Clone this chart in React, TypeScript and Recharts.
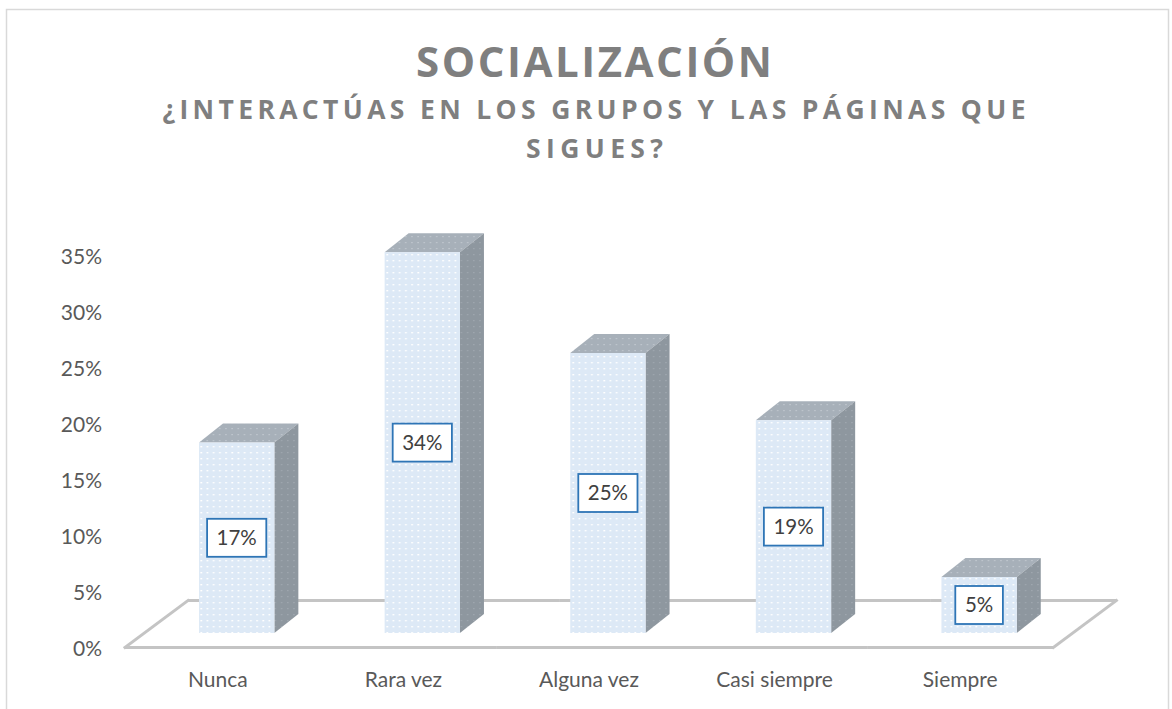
import React from 'react';
import { BarChart, Bar, XAxis, YAxis } from 'recharts';

const categories = ['Nunca', 'Rara vez', 'Alguna vez', 'Casi siempre', 'Siempre'];
const values = [0.17, 0.34, 0.25, 0.19, 0.05];
const yTicks = [0, 0.05, 0.1, 0.15, 0.2, 0.25, 0.3, 0.35];
const titleText = 'SOCIALIZACIÓN';
const subtitleLines = ['¿INTERACTÚAS EN LOS GRUPOS Y LAS PÁGINAS QUE', 'SIGUES?'];

const data = categories.map((c, i) => ({ name: c, value: values[i] }));

const W = 1172;
const H = 709;
const DX = 24;
const DY = 19;
const LIFT = 16;
const FLOOR_DX = 63;
const FLOOR_DY = 47;
const FLOOR_COLOR = '#c4c4c4';
const FONT = 'Lato, "Open Sans", sans-serif';
const pct = (v: number) => `${Math.round(v * 100)}%`;

function FloorSegment(props: any) {
  const { x, y, width, height, index } = props;
  const by = y + height - 1.5;
  const n = categories.length;
  return (
    <g>
      <line x1={x} y1={by} x2={x + width} y2={by} stroke={FLOOR_COLOR} strokeWidth={3} />
      <line x1={x + FLOOR_DX} y1={by - FLOOR_DY} x2={x + width + FLOOR_DX} y2={by - FLOOR_DY} stroke={FLOOR_COLOR} strokeWidth={3} />
      {index === 0 && (
        <line x1={x} y1={by} x2={x + FLOOR_DX} y2={by - FLOOR_DY} stroke={FLOOR_COLOR} strokeWidth={3} strokeLinecap="square" />
      )}
      {index === n - 1 && (
        <line x1={x + width} y1={by} x2={x + width + FLOOR_DX} y2={by - FLOOR_DY} stroke={FLOOR_COLOR} strokeWidth={3} strokeLinecap="square" />
      )}
    </g>
  );
}

function Bar3D(props: any) {
  const { x, y, width, height, index, payload } = props;
  const fx = x + width * 0.398;
  const fw = width * 0.405;
  const top = y - LIFT;
  const bottom = y + height - LIFT;
  const label = pct(payload.value);
  const digits = label.length - 1;
  const bw = digits * 11.6 + 16 + 20;
  const bh = 38;
  const cx = fx + fw / 2;
  const cy = (top + bottom) / 2;
  return (
    <g>
      {index === 0 && (
        <defs>
          <pattern id="dotsFront" patternUnits="userSpaceOnUse" width="6.2" height="6" x="0" y="0">
            <rect width="6.2" height="6" fill="#dde9f6" />
            <rect x="2" y="2" width="1.8" height="1.4" fill="#ffffff" />
          </pattern>
          <pattern id="dotsTop" patternUnits="userSpaceOnUse" width="6.2" height="6" x="0" y="0">
            <rect width="6.2" height="6" fill="#a7b0b9" />
            <rect x="2" y="2" width="1.4" height="1.2" fill="#c2c9d0" />
          </pattern>
          <pattern id="dotsSide" patternUnits="userSpaceOnUse" width="6.2" height="6" x="0" y="0">
            <rect width="6.2" height="6" fill="#8e979f" />
            <rect x="2" y="2" width="1.2" height="1.2" fill="#a3abb3" />
          </pattern>
        </defs>
      )}
      <polygon
        points={`${fx},${top} ${fx + DX},${top - DY} ${fx + fw + DX},${top - DY} ${fx + fw},${top}`}
        fill="url(#dotsTop)"
      />
      <polygon
        points={`${fx + fw},${top} ${fx + fw + DX},${top - DY} ${fx + fw + DX},${bottom - DY} ${fx + fw},${bottom}`}
        fill="url(#dotsSide)"
      />
      <rect x={fx} y={top} width={fw} height={bottom - top} fill="url(#dotsFront)" />
      <rect x={cx - bw / 2} y={cy - bh / 2} width={bw} height={bh} fill="#ffffff" stroke="#2e75b6" strokeWidth={1.8} />
      <text x={cx} y={cy} dy="0.35em" textAnchor="middle" fontFamily={FONT} fontSize={20.5} fill="#404040">
        {label}
      </text>
    </g>
  );
}

export default function App() {
  return (
    <div style={{ position: 'absolute', left: 0, top: 0, width: W, height: H, background: '#ffffff', overflow: 'hidden' }}>
      <BarChart
        width={W}
        height={H}
        data={data}
        margin={{ top: 257, right: 119, bottom: 0, left: 0 }}
        barCategoryGap="0%"
        barGap={0}
      >
        <XAxis
          dataKey="name"
          axisLine={false}
          tickLine={false}
          tickSize={0}
          tickMargin={23}
          height={60}
          interval={0}
          tick={{ fill: '#595959', fontSize: 21, fontFamily: FONT }}
        />
        <YAxis
          type="number"
          domain={[0, 0.35]}
          ticks={yTicks}
          interval={0}
          tickFormatter={pct}
          axisLine={false}
          tickLine={false}
          tickSize={0}
          tickMargin={23}
          width={125}
          tick={{ fill: '#595959', fontSize: 21, fontFamily: FONT }}
        />
        <Bar
          dataKey="value"
          isAnimationActive={false}
          shape={(p: any) => <Bar3D {...p} />}
          background={(p: any) => <FloorSegment {...p} />}
        />
      </BarChart>
      <svg width={W} height={H} style={{ position: 'absolute', left: 0, top: 0, pointerEvents: 'none' }}>
        <rect x={6.5} y={9.5} width={1162} height={720} fill="none" stroke="#d9d9d9" strokeWidth={1.5} />
        <text x={594} y={77} textAnchor="middle" fontFamily='"Open Sans", sans-serif' fontWeight="bold" fontSize={42} fill="#7f7f7f" textLength={356} lengthAdjust="spacing">
          {titleText}
        </text>
        <text x={594} y={119} textAnchor="middle" fontFamily='"Open Sans", sans-serif' fontWeight="bold" fontSize={26.5} fill="#7f7f7f" textLength={863} lengthAdjust="spacing">
          {subtitleLines[0]}
        </text>
        <text x={594.5} y={158} textAnchor="middle" fontFamily='"Open Sans", sans-serif' fontWeight="bold" fontSize={26.5} fill="#7f7f7f" textLength={137} lengthAdjust="spacing">
          {subtitleLines[1]}
        </text>
      </svg>
    </div>
  );
}
